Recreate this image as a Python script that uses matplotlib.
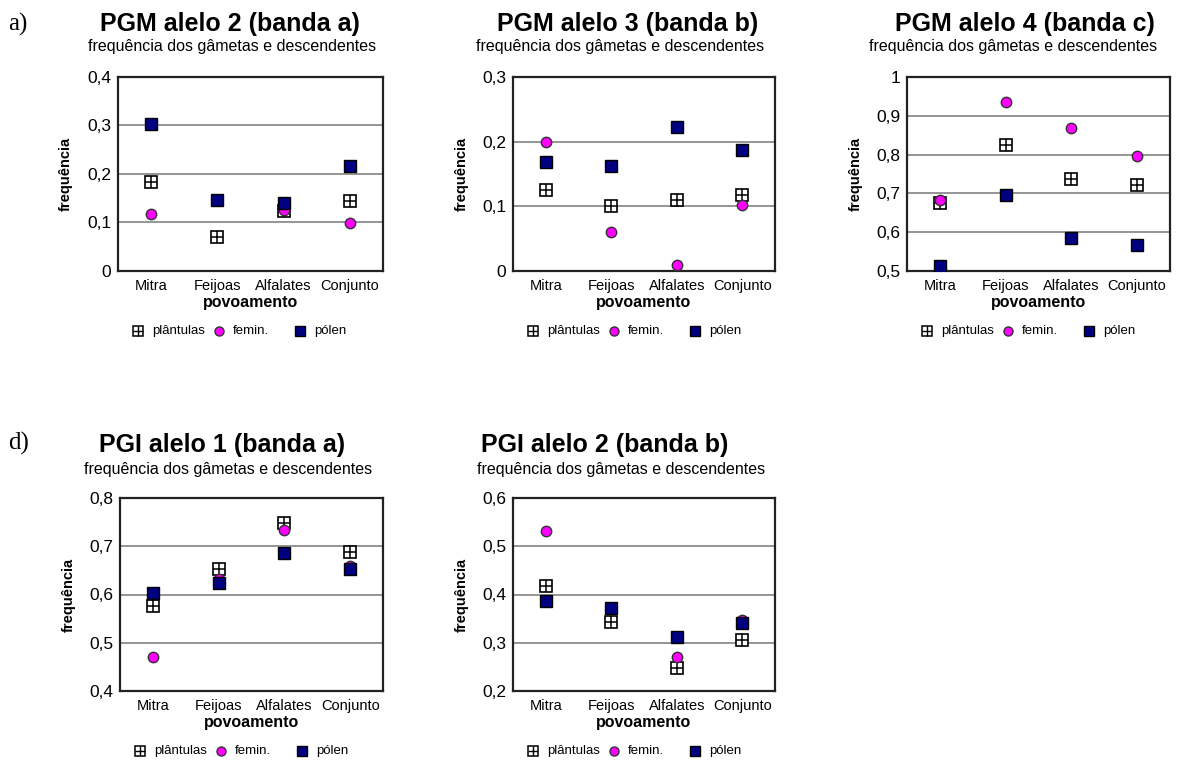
import matplotlib
matplotlib.use("Agg")
from matplotlib import pyplot as plt
from matplotlib.ticker import FuncFormatter

plt.rcParams['font.family'] = ['Liberation Sans', 'DejaVu Sans']

povoamentos = ["Mitra", "Feijoas", "Alfalates", "Conjunto"]
legenda = ["plântulas", "femin.", "pólen"]

# PGM alelo 2 (banda a)
pgm2_plantulas = [0.184, 0.070, 0.124, 0.144]
pgm2_femin = [0.117, 0.146, 0.126, 0.099]
pgm2_polen = [0.303, 0.146, 0.141, 0.217]

# PGM alelo 3 (banda b)
pgm3_plantulas = [0.126, 0.101, 0.110, 0.117]
pgm3_femin = [0.199, 0.061, 0.009, 0.102]
pgm3_polen = [0.168, 0.162, 0.222, 0.187]

# PGM alelo 4 (banda c)
pgm4_plantulas = [0.674, 0.824, 0.736, 0.721]
pgm4_femin = [0.683, 0.935, 0.869, 0.796]
pgm4_polen = [0.512, 0.697, 0.584, 0.567]

# PGI alelo 1 (banda a)
pgi1_plantulas = [0.576, 0.652, 0.748, 0.689]
pgi1_femin = [0.471, 0.632, 0.733, 0.659]
pgi1_polen = [0.604, 0.624, 0.687, 0.653]

# PGI alelo 2 (banda b)
pgi2_plantulas = [0.418, 0.343, 0.247, 0.306]
pgi2_femin = [0.532, 0.371, 0.270, 0.347]
pgi2_polen = [0.386, 0.371, 0.312, 0.341]

W, H = 1188, 762

# (titulo, caixa em pixels [x0, x1, y0, y1], limites y, centro titulo, centro subtitulo, dados)
paineis = [
    ("PGM alelo 2 (banda a)", (118, 383, 77, 271), (0, 0.4), (230, 24), (232, 47),
     pgm2_plantulas, pgm2_femin, pgm2_polen),
    ("PGM alelo 3 (banda b)", (513, 775, 77, 271), (0, 0.3), (628, 24), (620, 47),
     pgm3_plantulas, pgm3_femin, pgm3_polen),
    ("PGM alelo 4 (banda c)", (907, 1170, 77, 271), (0.5, 1.0), (1025, 24), (1013, 47),
     pgm4_plantulas, pgm4_femin, pgm4_polen),
    ("PGI alelo 1 (banda a)", (120, 383, 498, 691), (0.4, 0.8), (222, 445), (228, 469),
     pgi1_plantulas, pgi1_femin, pgi1_polen),
    ("PGI alelo 2 (banda b)", (513, 775, 498, 691), (0.2, 0.6), (605, 445), (621, 469),
     pgi2_plantulas, pgi2_femin, pgi2_polen),
]

AZUL = "#000080"
ROSA = "#ff00ff"


def virgula(v, pos):
    if abs(v - round(v)) < 1e-9:
        return str(int(round(v)))
    return f"{v:.1f}".replace(".", ",")


fig = plt.figure(figsize=(W / 100, H / 100), dpi=100)

x = list(range(len(povoamentos)))
for titulo, (x0, x1, y0, y1), ylim, tpos, spos, plantulas, femin, polen in paineis:
    ax = fig.add_axes([x0 / W, 1 - y1 / H, (x1 - x0) / W, (y1 - y0) / H])

    ax.plot(x, plantulas, ls="none", marker="s", ms=8.5, mfc="white", mec="black", mew=1.2, zorder=3)
    ax.plot(x, plantulas, ls="none", marker="+", ms=8.5, mec="black", mew=1.1, zorder=3)
    ax.plot(x, femin, ls="none", marker="o", ms=7.5, mfc=ROSA, mec="#333333", mew=1.0, zorder=4)
    ax.plot(x, polen, ls="none", marker="s", ms=8.5, mfc=AZUL, mec="black", mew=1.0, zorder=5)

    ax.set_xlim(-0.5, 3.5)
    ax.set_ylim(*ylim)
    n = int(round((ylim[1] - ylim[0]) / 0.1))
    ax.set_yticks([round(ylim[0] + 0.1 * i, 1) for i in range(n + 1)])
    ax.yaxis.set_major_formatter(FuncFormatter(virgula))
    ax.set_xticks(x)
    ax.set_xticklabels(povoamentos, fontsize=10.5)
    ax.tick_params(axis="y", length=0, pad=5, labelsize=12.5)
    ax.tick_params(axis="x", length=0, pad=6)
    ax.grid(axis="y", color="#8c8c8c", lw=1.3)
    ax.set_axisbelow(True)
    for s in ax.spines.values():
        s.set_linewidth(1.6)
        s.set_color("#222222")

    ax.set_ylabel("frequência", fontsize=10.5, fontweight="bold")
    ax.yaxis.set_label_coords(-0.17, 0.5)
    ax.set_xlabel("povoamento", fontsize=11.5, fontweight="bold", labelpad=1)

    fig.text(tpos[0] / W, 1 - tpos[1] / H, titulo, ha="center", va="center",
             fontsize=18, fontweight="bold")
    fig.text(spos[0] / W, 1 - spos[1] / H, "frequência dos gâmetas e descendentes",
             ha="center", va="center", fontsize=11.5)

    # legenda desenhada a mao: tres entradas espacadas por igual, 60 px abaixo do eixo
    ly = 1 - (y1 + 60) / H
    for i, rotulo in enumerate(legenda):
        mx = (x0 + 20 + 81 * i) / W
        kw = dict(transform=fig.transFigure, clip_on=False, ls="none")
        if i == 0:
            fig.add_artist(plt.Line2D([mx], [ly], marker="s", ms=7, mfc="white", mec="black", mew=1.1, **kw))
            fig.add_artist(plt.Line2D([mx], [ly], marker="+", ms=7, mec="black", mew=1.0, **kw))
        elif i == 1:
            fig.add_artist(plt.Line2D([mx], [ly], marker="o", ms=6.5, mfc=ROSA, mec="#333333", mew=1.0, **kw))
        else:
            fig.add_artist(plt.Line2D([mx], [ly], marker="s", ms=7, mfc=AZUL, mec="black", mew=1.0, **kw))
        fig.text(mx + 14 / W, ly, rotulo, ha="left", va="center", fontsize=9.5)

fig.text(8 / W, 1 - 24 / H, "a)", fontsize=18, family="Liberation Serif", va="center")
fig.text(8 / W, 1 - 443 / H, "d)", fontsize=18, family="Liberation Serif", va="center")

fig.savefig("out.png", dpi=100)
